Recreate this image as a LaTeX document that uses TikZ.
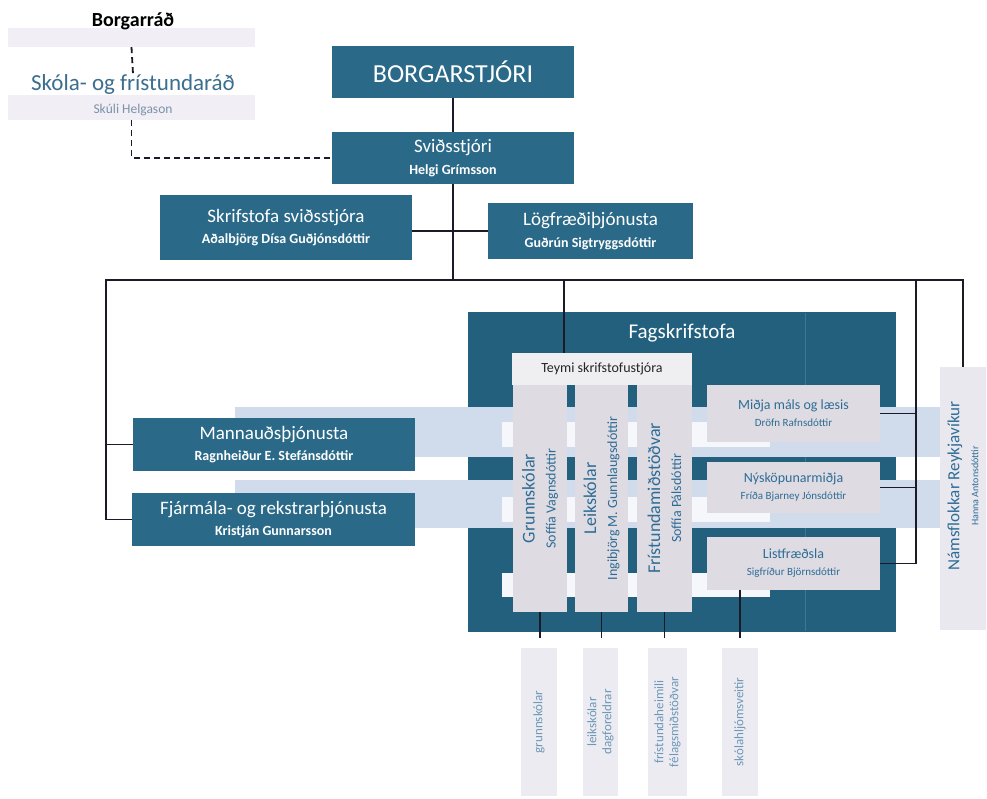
\documentclass[tikz,border=0pt]{standalone}
\usepackage{fontspec}
\setmainfont{Carlito}
\definecolor{dblue}{HTML}{2A6A88}
\definecolor{fblue}{HTML}{22607E}
\definecolor{fline}{HTML}{3C7894}
\definecolor{lgray}{HTML}{DEDCE2}
\definecolor{tgray}{HTML}{EFEEF1}
\definecolor{bgray}{HTML}{ECEBF2}
\definecolor{bandc}{HTML}{D0DCEB}
\definecolor{bandw}{HTML}{F6F7FB}
\definecolor{pale}{HTML}{F1EEF6}
\definecolor{tblue}{HTML}{2E6C96}
\definecolor{sblue}{HTML}{3B6E8F}
\definecolor{gblue}{HTML}{7A93A8}
\definecolor{lnc}{HTML}{1B1B28}
\newcommand\subdark[1]{{\fontsize{14}{16}\selectfont\bfseries #1}}
\newcommand\subcol[1]{{\fontsize{14}{16}\selectfont #1}}
\newcommand\subright[1]{{\fontsize{11}{13}\selectfont #1}}
\begin{document}
\begin{tikzpicture}[x=1pt,y=-1pt,
  dbox/.style={rectangle, fill=dblue, text=white, inner sep=0pt, align=center, font=\fontsize{19}{21.5}\selectfont},
  lbox/.style={rectangle, fill=lgray, inner sep=0pt},
  rbox/.style={rectangle, fill=lgray, inner sep=0pt, align=center, text=tblue, font=\fontsize{14}{17}\selectfont},
  bbox/.style={rectangle, fill=bgray, inner sep=0pt},
  band/.style={rectangle, fill=bandc, inner sep=0pt},
  wband/.style={rectangle, fill=bandw, inner sep=0pt},
  conn/.style={draw=lnc, line width=1.4pt},
  dconn/.style={draw=lnc, line width=1.8pt, dash pattern=on 6pt off 4pt},
  vtext/.style={rotate=90, align=center, text=tblue, inner sep=0pt},
  coltext/.style={vtext, font=\fontsize{18}{21}\selectfont},
  bottext/.style={vtext, text=tblue!70, font=\fontsize{13}{15}\selectfont}
]
\useasboundingbox (0,0) rectangle (987,798);
\fill[white] (0,0) rectangle (987,798);

% ---------- top-left councils ----------
\node[rectangle, fill=pale, minimum width=247, minimum height=19, inner sep=0pt] (brband) at (131.5,37.5) {};
\node[inner sep=0pt, font=\fontsize{20}{22}\selectfont\bfseries, text=black] (brtxt) at (133,21) {Borgarráð};
\node[rectangle, fill=pale, minimum width=247, minimum height=25, inner sep=0pt] (skband) at (131.5,107.5) {};
\node[inner sep=0pt, font=\fontsize{23}{25}\selectfont, text=sblue] (sktxt) at (133,84) {Skóla- og frístundaráð};
\node[inner sep=0pt, font=\fontsize{13.5}{15}\selectfont, text=gblue] (skname) at (133,110) {Skúli Helgason};

% ---------- top boxes ----------
\node[dbox, minimum width=242, minimum height=52, font=\fontsize{26}{28}\selectfont] (borg) at (453,72) {BORGARSTJÓRI};
\node[dbox, minimum width=242, minimum height=52] (svid) at (453,158)
  {Sviðsstjóri\\\subdark{Helgi Grímsson}};
\node[dbox, minimum width=252, minimum height=65] (skrif) at (286,227.5)
  {Skrifstofa sviðsstjóra\\\subdark{Aðalbjörg Dísa Guðjónsdóttir}};
\node[dbox, minimum width=205, minimum height=56] (log) at (590.5,231)
  {Lögfræðiþjónusta\\\subdark{Guðrún Sigtryggsdóttir}};

% ---------- Fagskrifstofa ----------
\node[rectangle, fill=fblue, minimum width=428, minimum height=320, inner sep=0pt] (fag) at (682,472) {};
\draw[fline, line width=1pt] (805,313) -- (805,631);
\node[inner sep=0pt, text=white, font=\fontsize{21}{23}\selectfont] (fagtxt) at (682,333) {Fagskrifstofa};

% ---------- light bands ----------
\node[band, minimum width=705, minimum height=50] (bandA) at (587.5,432) {};
\node[wband, minimum width=268, minimum height=25] (bandAw) at (636,434.5) {};
\node[band, minimum width=705, minimum height=48] (bandB) at (587.5,504) {};
\node[wband, minimum width=268, minimum height=25] (bandBw) at (636,509.5) {};
\node[wband, minimum width=268, minimum height=24] (bandCw) at (636,585) {};

% ---------- left service boxes ----------
\node[dbox, minimum width=282, minimum height=53] (mann) at (274,444.5)
  {Mannauðsþjónusta\\\subdark{Ragnheiður E. Stefánsdóttir}};
\node[dbox, minimum width=283, minimum height=53] (fjar) at (273.5,519.5)
  {Fjármála- og rekstrarþjónusta\\\subdark{Kristján Gunnarsson}};

% ---------- Fagskrifstofa inner ----------
\node[rectangle, fill=tgray, minimum width=180, minimum height=32, inner sep=0pt, font=\fontsize{14}{16}\selectfont, text=black!85] (teymi) at (602,369) {Teymi skrifstofustjóra};
\node[lbox, minimum width=54, minimum height=227] (grunn) at (540,498.5) {};
\node[lbox, minimum width=53, minimum height=227] (leik) at (601.5,498.5) {};
\node[lbox, minimum width=55, minimum height=227] (fris) at (664.5,498.5) {};
\node[coltext] (grunnT) at (grunn.center) {Grunnskólar\\\subcol{Soffía Vagnsdóttir}};
\node[coltext] (leikT) at (leik.center) {Leikskólar\\\subcol{Ingibjörg M. Gunnlaugsdóttir}};
\node[coltext] (frisT) at (fris.center) {Frístundamiðstöðvar\\\subcol{Soffía Pálsdóttir}};

\node[rbox, minimum width=173, minimum height=57] (midja) at (793.5,413.5)
  {Miðja máls og læsis\\\subright{Dröfn Rafnsdóttir}};
\node[rbox, minimum width=173, minimum height=51] (nysk) at (793.5,487.5)
  {Nýsköpunarmiðja\\\subright{Fríða Bjarney Jónsdóttir}};
\node[rbox, minimum width=173, minimum height=53] (list) at (793.5,563.5)
  {Listfræðsla\\\subright{Sigfríður Björnsdóttir}};

% ---------- Námsflokkar ----------
\node[rectangle, fill=bgray!80!lgray, minimum width=46, minimum height=263, inner sep=0pt] (nams) at (963,498.5) {};
\node[vtext, font=\fontsize{17}{19}\selectfont] (namsT) at (963,486)
  {Námsflokkar Reykjavíkur\\{\fontsize{10}{12}\selectfont Hanna Antonsdóttir}};

% ---------- bottom boxes ----------
\node[bbox, minimum width=36, minimum height=148] (b1) at (539,722) {};
\node[bbox, minimum width=35, minimum height=148] (b2) at (600.5,722) {};
\node[bbox, minimum width=39, minimum height=148] (b3) at (667.5,722) {};
\node[bbox, minimum width=36, minimum height=148] (b4) at (740,722) {};
\node[bottext] (b1T) at (b1.center) {grunnskólar};
\node[bottext] (b2T) at (b2.center) {leikskólar\\dagforeldrar};
\node[bottext] (b3T) at (b3.center) {frístundaheimili\\félagsmiðstöðvar};
\node[bottext] (b4T) at (b4.center) {skólahljómsveitir};

% ---------- connectors ----------
\coordinate (busL) at (106,280);
\coordinate (busM) at (453,280);
\coordinate (busT) at (564,280);
\coordinate (busR1) at (916,280);
\coordinate (busR) at (963,280);

\draw[dconn] (brband.south) -- (sktxt.north);
\draw[dconn] (skband.south) |- (svid.west);

\draw[conn] (borg.south) -- (svid.north);
\draw[conn] (svid.south) -- (busM);
\draw[conn] (skrif.east |- log.west) -- (log.west);
\draw[conn] (fjar.west) -| (busL) -- (busR) -- (nams.north);
\draw[conn] (mann.west) -- (mann.west -| busL);
\draw[conn] (busT) -- (busT |- teymi.north);
\draw[conn] (busR1) |- (list.east);
\draw[conn] (midja.east) -- (midja.east -| busR1);
\draw[conn] (nysk.east) -- (nysk.east -| busR1);

\draw[conn, shorten >=10pt] (grunn.south) -- (grunn.south |- b1.north);
\draw[conn, shorten >=10pt] (leik.south) -- (leik.south |- b2.north);
\draw[conn, shorten >=10pt] (fris.south) -- (fris.south |- b3.north);
\draw[conn, shorten >=10pt] (list.south -| b4.north) -- (b4.north);
\end{tikzpicture}
\end{document}
